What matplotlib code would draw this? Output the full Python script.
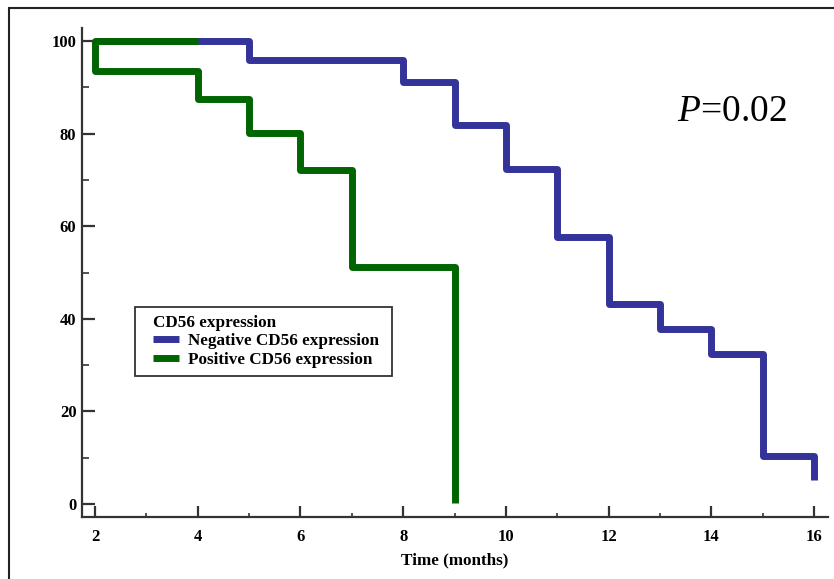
import matplotlib
matplotlib.use("Agg")
import matplotlib.pyplot as plt
from matplotlib.patches import Rectangle
from matplotlib.ticker import MultipleLocator
from matplotlib.lines import Line2D

# Data
neg_times = [2, 5, 8, 9, 10, 11, 12, 13, 14, 15, 16]
neg_surv = [100, 95.9, 91.1, 81.9, 72.4, 57.7, 43.2, 37.8, 32.4, 10.4, 5.2]
pos_times = [2, 4, 5, 6, 7, 9]
pos_surv = [93.5, 87.5, 80.1, 72.1, 51.2, 0.2]

x_ticks = [2, 4, 6, 8, 10, 12, 14, 16]
y_ticks = [0, 20, 40, 60, 80, 100]

NEG_COLOR = "#333399"
POS_COLOR = "#006400"

plt.rcParams["font.family"] = ["Liberation Serif", "DejaVu Serif"]
plt.rcParams["mathtext.fontset"] = "custom"
plt.rcParams["mathtext.rm"] = "Liberation Serif"
plt.rcParams["mathtext.it"] = "Liberation Serif:italic"


def step_path(times, surv, start=100.0):
    xs, ys = [times[0]], [start]
    for t, s in zip(times, surv):
        xs += [t, t]
        ys += [ys[-1], s]
    return xs, ys


fig = plt.figure(figsize=(8.34, 5.79), dpi=100)
ax = fig.add_axes([0.0983, 0.1071, 0.8945, 0.8445])

# Negative curve
nx, ny = step_path(neg_times[1:], neg_surv[1:], start=100.0)
nx = [neg_times[0]] + nx
ny = [100.0] + ny
ax.plot(nx, ny, color=NEG_COLOR, lw=5, solid_joinstyle="round",
        solid_capstyle="butt", label="Negative CD56 expression", zorder=3)

# Positive curve (drawn over the common 100 % segment)
px, py = step_path(pos_times, pos_surv, start=100.0)
px = [pos_times[1]] + px
py = [100.0] + py
ax.plot(px, py, color=POS_COLOR, lw=5, solid_joinstyle="round",
        solid_capstyle="butt", label="Positive CD56 expression", zorder=4)

ax.set_xlim(1.747, 16.27)
ax.set_ylim(-2.8, 102.8)
ax.set_xticks(x_ticks)
ax.set_yticks(y_ticks)
ax.xaxis.set_minor_locator(MultipleLocator(1))
ax.yaxis.set_minor_locator(MultipleLocator(10))

for s in ["top", "right"]:
    ax.spines[s].set_visible(False)
for s in ["left", "bottom"]:
    ax.spines[s].set_linewidth(1.6)
    ax.spines[s].set_color("#333333")

ax.tick_params(axis="x", which="major", direction="in", length=8, width=1.6,
               color="#333333", pad=9)
ax.tick_params(axis="x", which="minor", direction="in", length=3, width=1.2,
               color="#333333")
ax.tick_params(axis="y", which="major", direction="in", length=9, width=1.6,
               color="#333333", pad=4)
ax.tick_params(axis="y", which="minor", direction="in", length=5, width=1.2,
               color="#333333")
for lab in ax.get_xticklabels() + ax.get_yticklabels():
    lab.set_fontweight("bold")
    lab.set_fontsize(12)

ax.set_xlabel("Time (months)", fontsize=12.3, fontweight="bold", labelpad=5)

ax.text(0.945, 0.81, r"$P$=0.02", transform=ax.transAxes, fontsize=27,
        ha="right", va="baseline")

handles = [Line2D([], [], color=NEG_COLOR, lw=5, solid_capstyle="butt"),
           Line2D([], [], color=POS_COLOR, lw=5, solid_capstyle="butt")]
leg = ax.legend(handles, ["Negative CD56 expression", "Positive CD56 expression"],
                title="CD56 expression", loc="upper left",
                bbox_to_anchor=(0.0849, 0.429), frameon=False,
                prop={"weight": "bold", "size": 12.3},
                title_fontproperties={"weight": "bold", "size": 12.3},
                handlelength=1.55, handletextpad=0.5, borderpad=0.45,
                labelspacing=0.15, borderaxespad=0)
leg._legend_box.align = "left"

# legend box with wider horizontal padding
fig.canvas.draw()
bb = leg.get_window_extent()
inv = fig.transFigure.inverted()
(x0, y0) = inv.transform((bb.x0 - 10.3, bb.y0))
(x1, y1) = inv.transform((bb.x1 + 5.0, bb.y1))
fig.patches.append(Rectangle((x0, y0), x1 - x0, y1 - y0,
                             transform=fig.transFigure, fill=False,
                             edgecolor="#333333", lw=1.3, zorder=5))

# outer frame (cropped at right/bottom like the reference)
fig.patches.append(Rectangle((9 / 834, -0.2), 1.2, 1 - 8 / 579 + 0.2,
                             transform=fig.transFigure, fill=False,
                             edgecolor="#222222", lw=1.5))

fig.savefig("out.png", dpi=100)
